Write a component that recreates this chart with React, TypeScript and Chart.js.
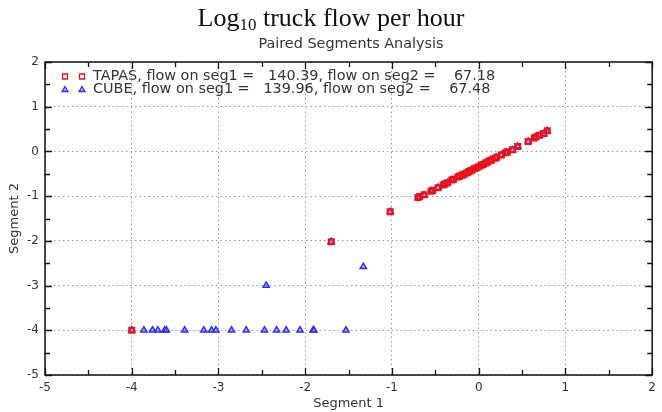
import React, { useEffect, useRef } from "react";
import { Chart, registerables } from "chart.js";

Chart.register(...registerables);

const TITLE_MAIN = "truck flow per hour";
const SUBTITLE = "Paired Segments Analysis";
const X_LABEL = "Segment 1";
const Y_LABEL = "Segment 2";
const LEGEND_TAPAS = "TAPAS, flow on seg1 =   140.39, flow on seg2 =    67.18";
const LEGEND_CUBE = "CUBE, flow on seg1 =   139.96, flow on seg2 =    67.48";

// TAPAS (red squares)
const tapasX = [-4.0, -1.70, -1.02, -0.70, -0.68, -0.63, -0.55, -0.53, -0.47, -0.41, -0.39, -0.36, -0.31, -0.29, -0.24, -0.22, -0.19, -0.17, -0.14, -0.12, -0.10, -0.08, -0.05, -0.03, 0.0, 0.03, 0.05, 0.08, 0.10, 0.13, 0.15, 0.19, 0.21, 0.26, 0.31, 0.33, 0.39, 0.45, 0.57, 0.64, 0.66, 0.70, 0.75, 0.79];
const tapasY = [-4.0, -2.02, -1.35, -1.03, -1.01, -0.97, -0.89, -0.87, -0.81, -0.75, -0.73, -0.70, -0.64, -0.62, -0.57, -0.55, -0.53, -0.51, -0.48, -0.46, -0.44, -0.42, -0.39, -0.37, -0.34, -0.31, -0.29, -0.26, -0.24, -0.21, -0.19, -0.15, -0.13, -0.08, -0.03, -0.01, 0.04, 0.11, 0.22, 0.30, 0.32, 0.36, 0.40, 0.46];

// CUBE (blue triangles)
const cubeX = [-4.0, -3.86, -3.76, -3.70, -3.62, -3.60, -3.39, -3.17, -3.08, -3.03, -2.85, -2.68, -2.47, -2.33, -2.22, -2.06, -1.91, -1.90, -1.53, -2.45, -1.33, -1.70, -1.02, -0.69, -0.63, -0.54, -0.47, -0.41, -0.36, -0.30, -0.23, -0.18, -0.14, -0.09, -0.04, 0.0, 0.05, 0.09, 0.14, 0.20, 0.26, 0.32, 0.39, 0.45, 0.57, 0.65, 0.70, 0.75, 0.79];
const cubeY = [-4.0, -4.0, -4.0, -4.0, -4.0, -4.0, -4.0, -4.0, -4.0, -4.0, -4.0, -4.0, -4.0, -4.0, -4.0, -4.0, -4.0, -4.0, -4.0, -3.0, -2.58, -2.02, -1.35, -1.03, -0.98, -0.89, -0.81, -0.75, -0.70, -0.64, -0.57, -0.53, -0.48, -0.43, -0.38, -0.34, -0.29, -0.24, -0.19, -0.13, -0.08, -0.03, 0.03, 0.11, 0.22, 0.32, 0.35, 0.39, 0.46];

const X_MIN = -5, X_MAX = 2, Y_MIN = -5, Y_MAX = 2;

const FONT = "'DejaVu Sans', Verdana, sans-serif";

const frameAndLegend = {
  id: "frameAndLegend",
  afterDraw(chart: any) {
    const { ctx, chartArea: a, scales } = chart;
    const xs = scales.x, ys = scales.y;
    ctx.save();
    ctx.strokeStyle = "#111";
    ctx.lineWidth = 1.5;
    ctx.strokeRect(a.left, a.top, a.right - a.left, a.bottom - a.top);
    ctx.lineWidth = 1.3;
    ctx.beginPath();
    for (let v = X_MIN; v <= X_MAX + 1e-9; v += 0.5) {
      const px = Math.round(xs.getPixelForValue(v)) + 0.5;
      const len = Number.isInteger(v) ? 7 : 5;
      ctx.moveTo(px, a.bottom); ctx.lineTo(px, a.bottom - len);
      ctx.moveTo(px, a.top); ctx.lineTo(px, a.top + len);
    }
    for (let v = Y_MIN; v <= Y_MAX + 1e-9; v += 0.5) {
      const py = Math.round(ys.getPixelForValue(v)) + 0.5;
      const len = Number.isInteger(v) ? 7 : 5;
      ctx.moveTo(a.left, py); ctx.lineTo(a.left + len, py);
      ctx.moveTo(a.right, py); ctx.lineTo(a.right - len, py);
    }
    ctx.stroke();

    // legend
    const rows = [
      { text: LEGEND_TAPAS, style: "rect", color: "#e8141a", fill: "rgba(255,255,255,0)" },
      { text: LEGEND_CUBE, style: "triangle", color: "#3030f0", fill: "rgba(130,130,255,0.6)" },
    ];
    ctx.font = `14.4px ${FONT}`;
    ctx.textBaseline = "middle";
    rows.forEach((r, i) => {
      const y = a.top + 14.5 + i * 13;
      [65, 82].forEach((x) => {
        ctx.strokeStyle = r.color;
        ctx.fillStyle = r.fill;
        ctx.lineWidth = 1.3;
        if (r.style === "rect") {
          ctx.beginPath();
          ctx.rect(x - 2.5, y - 2.5, 5, 5);
          ctx.stroke();
        } else {
          ctx.beginPath();
          ctx.moveTo(x, y - 3);
          ctx.lineTo(x + 3, y + 2);
          ctx.lineTo(x - 3, y + 2);
          ctx.closePath();
          ctx.fill();
          ctx.stroke();
        }
      });
      ctx.fillStyle = "#333";
      ctx.fillText(r.text, 93, y);
    });
    ctx.restore();
  },
};

export default function App() {
  const ref = useRef<HTMLCanvasElement | null>(null);
  useEffect(() => {
    document.body.style.margin = "0";
    const chart = new Chart(ref.current as HTMLCanvasElement, {
      type: "scatter",
      data: {
        datasets: [
          {
            label: "TAPAS",
            data: tapasX.map((x, i) => ({ x, y: tapasY[i] })),
            pointStyle: "rect",
            pointRadius: 3.4,
            borderColor: "#e8141a",
            backgroundColor: "rgba(255,255,255,0)",
            borderWidth: 2.2,
            order: 1,
          },
          {
            label: "CUBE",
            data: cubeX.map((x, i) => ({ x, y: cubeY[i] })),
            pointStyle: "triangle",
            pointRadius: 3.6,
            borderColor: "#3030f0",
            backgroundColor: "rgba(130,130,255,0.6)",
            borderWidth: 1.5,
            order: 2,
          },
        ],
      },
      options: {
        animation: false,
        responsive: false,
        layout: { padding: { top: 62, right: 5, left: 0, bottom: 0 } },
        plugins: { legend: { display: false }, tooltip: { enabled: false }, title: { display: false } },
        scales: {
          x: {
            type: "linear",
            min: X_MIN,
            max: X_MAX,
            afterFit: (s: any) => { s.height = 37; },
            ticks: { stepSize: 1, color: "#333", font: { family: FONT, size: 12 }, padding: 6 },
            grid: { color: "#999", drawTicks: false, lineWidth: 1 },
            border: { display: false, dash: [1.5, 3] },
            title: { display: true, text: X_LABEL, color: "#333", font: { family: FONT, size: 13 }, padding: { top: 0, bottom: 1 } },
          },
          y: {
            type: "linear",
            min: Y_MIN,
            max: Y_MAX,
            afterFit: (s: any) => { s.width = 45; },
            ticks: { stepSize: 1, color: "#333", font: { family: FONT, size: 12 }, padding: 6 },
            grid: { color: "#999", drawTicks: false, lineWidth: 1 },
            border: { display: false, dash: [1.5, 3] },
            title: { display: true, text: Y_LABEL, color: "#333", font: { family: FONT, size: 13 }, padding: { top: 7, bottom: 0 } },
          },
        },
      },
      plugins: [frameAndLegend],
    });
    return () => chart.destroy();
  }, []);

  return (
    <div style={{ position: "relative", width: 662, height: 412, background: "#fff" }}>
      <canvas ref={ref} width={662} height={412} style={{ position: "absolute", left: 0, top: 0 }} />
      <div
        style={{
          position: "absolute", left: 0, top: 4, width: 662, textAlign: "center",
          fontFamily: "'Liberation Serif', 'Times New Roman', serif", fontSize: 26, lineHeight: "28px", color: "#111",
        }}
      >
        Log<sub style={{ fontSize: 17, verticalAlign: "-4px", lineHeight: 0 }}>10</sub> {TITLE_MAIN}
      </div>
      <div
        style={{
          position: "absolute", left: 20, top: 35, width: 662, textAlign: "center",
          fontFamily: FONT, fontSize: 14.4, lineHeight: "16px", color: "#333",
        }}
      >
        {SUBTITLE}
      </div>
    </div>
  );
}
